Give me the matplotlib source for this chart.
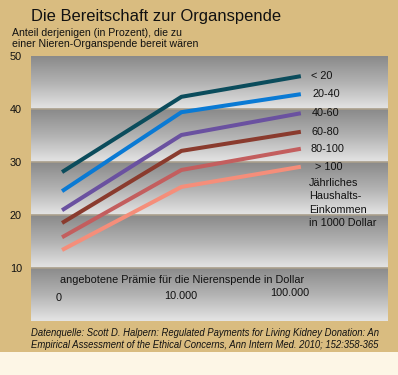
import numpy as np
import matplotlib.pyplot as plt

# data
praemie = ["0", "10.000", "100.000"]
einkommen = ["< 20", "20-40", "40-60", "60-80", "80-100", "> 100"]
bereit_lt20 = [28.1, 42.3, 46.2]
bereit_20_40 = [24.5, 39.4, 42.8]
bereit_40_60 = [20.9, 35.1, 39.2]
bereit_60_80 = [18.5, 32.1, 35.7]
bereit_80_100 = [15.8, 28.5, 32.5]
bereit_gt100 = [13.4, 25.3, 29.1]
y_ticks = [10, 20, 30, 40, 50]

serien = [bereit_lt20, bereit_20_40, bereit_40_60,
          bereit_60_80, bereit_80_100, bereit_gt100]
farben = ["#0b4c5c", "#0a7ad4", "#6a51a0", "#8a3b2e", "#c35e5e", "#f58e7a"]

plt.rcParams['font.family'] = ['Liberation Sans', 'DejaVu Sans']
fs = 7.8

W, H = 398, 375
fig = plt.figure(figsize=(W / 100, H / 100), dpi=100)
fig.patch.set_facecolor("#d9bc80")
# cream strip at the bottom
fig.patches.append(plt.Rectangle((0, 0), 1, 23 / H, transform=fig.transFigure,
                                 facecolor="#fdf6e6", edgecolor="none", zorder=0))

ax = fig.add_axes([31 / W, (H - 321) / H, 357 / W, 265 / H])
x = np.arange(len(praemie))
x0, x1 = -0.26, 2.73
ax.set_xlim(x0, x1)
ax.set_ylim(0, 50)

# gradient bands, dark on top, light at the bottom
grad = np.linspace(0, 1, 100).reshape(-1, 1)
cmap = plt.matplotlib.colors.LinearSegmentedColormap.from_list(
    "band", ["#8a8a8a", "#b2b2b2", "#e4e4e4"])
for k in range(5):
    ax.imshow(grad, cmap=cmap, aspect="auto", extent=(x0, x1, k * 10, k * 10 + 10),
              origin="upper", zorder=0)
for yv in y_ticks[:-1]:
    ax.axhline(yv, color="#aa9f8c", lw=1.2, zorder=1)

for s, c in zip(serien, farben):
    ax.plot(x, s, color=c, lw=2.9, solid_capstyle="butt", zorder=3)

# legend labels at line ends
leg_dx = [10, 12, 11, 11, 10, 14]
for s, lab, dx in zip(serien, einkommen, leg_dx):
    ax.annotate(lab, (x[-1], s[-1]), xytext=(dx, 0), textcoords="offset pixels",
                ha="left", va="center", fontsize=fs, color="#111111")
ax.text((309 - 31) / 357, (321 - 178) / 265,
        "Jährliches\nHaushalts-\nEinkommen\nin 1000 Dollar",
        transform=ax.transAxes, ha="left", va="top", fontsize=fs,
        linespacing=1.42, color="#111111")

# x labels inside the plot
ax.text((60 - 31) / 357, (321 - 280) / 265,
        "angebotene Prämie für die Nierenspende in Dollar",
        transform=ax.transAxes, ha="left", va="center", fontsize=fs, color="#111111")
lab_dx = [-3, -1, -11]
lab_y = [4.3, 4.7, 5.3]
for xi, lab, dx, yy in zip(x, praemie, lab_dx, lab_y):
    ax.annotate(lab, (xi, yy), xytext=(dx, 0), textcoords="offset pixels",
                ha="center", va="center", fontsize=fs, color="#111111")

ax.set_xticks([])
ax.set_yticks(y_ticks)
ax.set_yticklabels([str(v) for v in y_ticks], fontsize=fs, color="#111111")
ax.tick_params(axis="y", length=0, pad=6.5)
for lbl in ax.get_yticklabels():
    lbl.set_verticalalignment("center_baseline")
for sp in ax.spines.values():
    sp.set_visible(False)

fig.text(31 / W, 1 - 16 / H, "Die Bereitschaft zur Organspende",
         ha="left", va="center", fontsize=11.9, color="#111111")
fig.text(12 / W, 1 - 33 / H, "Anteil derjenigen (in Prozent), die zu",
         ha="left", va="center", fontsize=7.6, color="#111111")
fig.text(12 / W, 1 - 44 / H, "einer Nieren-Organspende bereit wären",
         ha="left", va="center", fontsize=7.6, color="#111111")
fig.text(31 / W, 1 - 333 / H,
         "Datenquelle: Scott D. Halpern: Regulated Payments for Living Kidney Donation: An",
         ha="left", va="center", fontsize=6.85, style="italic", color="#111111")
fig.text(31 / W, 1 - 345 / H,
         "Empirical Assessment of the Ethical Concerns, Ann Intern Med. 2010; 152:358-365",
         ha="left", va="center", fontsize=6.85, style="italic", color="#111111")

fig.savefig("out.png", dpi=100, facecolor=fig.get_facecolor())
